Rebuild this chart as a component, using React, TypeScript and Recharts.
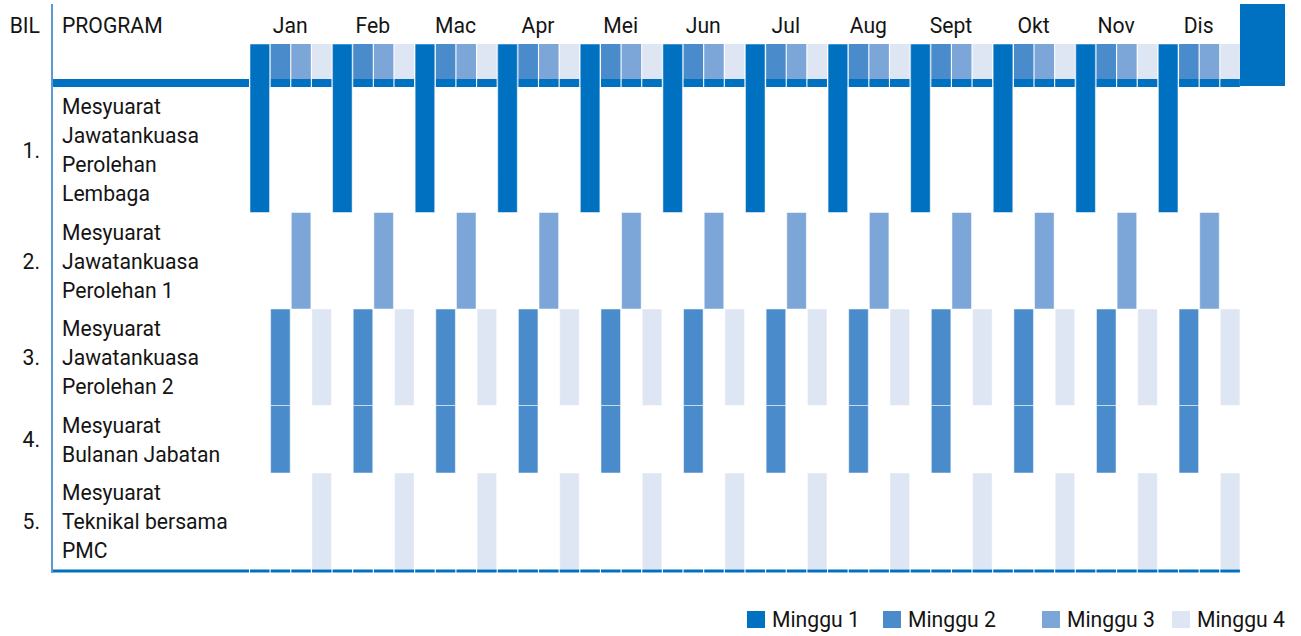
import React from "react";
import { BarChart, Bar, Cell, XAxis, YAxis, ReferenceArea, Legend } from "recharts";

const MONTHS = ["Jan", "Feb", "Mac", "Apr", "Mei", "Jun", "Jul", "Aug", "Sept", "Okt", "Nov", "Dis"];
const WEEKS = ["Minggu 1", "Minggu 2", "Minggu 3", "Minggu 4"];
const WEEK_COLORS = ["#0070c0", "#4a8bcb", "#7ca6d8", "#dee6f3"];

const PROGRAMS = [
  ["Mesyuarat", "Jawatankuasa", "Perolehan", "Lembaga"],
  ["Mesyuarat", "Jawatankuasa", "Perolehan 1"],
  ["Mesyuarat", "Jawatankuasa", "Perolehan 2"],
  ["Mesyuarat", "Bulanan Jabatan"],
  ["Mesyuarat", "Teknikal bersama", "PMC"],
];
// week of the month (1-4) each programme meets in, every month
const MEETING_WEEKS = [[1], [3], [2, 4], [2], [4]];

// layout
const W = 1301;
const H = 636;
const DARK = "#0070c0";
const INK = "#141414";
const PLOT_LEFT = 52;
const PLOT_RIGHT = 1285;
const PLOT_TOP = 4;
const PLOT_BOTTOM = 573;
const PLOT_W = PLOT_RIGHT - PLOT_LEFT;
const PROGRAM_W = 197;
const BLOCK_W = 45;
const BAND = (PLOT_W - PROGRAM_W - BLOCK_W) / 48;
const BAR_W = BAND - 1.1;
const Y_MAX = PLOT_BOTTOM - PLOT_TOP;
const CELL_TOP = 40;
const BAND_TOP = 75;
const HEADER_BOTTOM = 83;
const LINE_H = 29;
const ROW_PAD = 9.5;
const FONT = 22.5;
const SQUEEZE = 0.94;
const LEGEND_LEFT = [747, 883, 1042, 1172];

const rowTops: number[] = [];
const rowBottoms: number[] = [];
PROGRAMS.reduce((top, lines) => {
  rowTops.push(top);
  rowBottoms.push(top + lines.length * LINE_H + ROW_PAD);
  return top + lines.length * LINE_H + ROW_PAD;
}, HEADER_BOTTOM);
const TABLE_BOTTOM = rowBottoms[rowBottoms.length - 1];

const Y_TICKS = [21, ...rowTops.map((t, i) => (t + rowBottoms[i]) / 2)];

const data = MONTHS.flatMap((month) =>
  WEEKS.map((_, w) => {
    const row: Record<string, any> = {
      id: `${month}-${w + 1}`,
      month,
      week: w,
      header: [CELL_TOP, BAND_TOP],
      band: [BAND_TOP, HEADER_BOTTOM],
      bottom: [TABLE_BOTTOM, TABLE_BOTTOM + 3],
    };
    MEETING_WEEKS.forEach((weeks, p) => {
      row[`p${p}`] = weeks.includes(w + 1)
        ? [p === 0 ? CELL_TOP : rowTops[p], rowBottoms[p]]
        : null;
    });
    return row;
  })
);

function Label({ x, y, anchor = "start", children }: any) {
  return (
    <text
      transform={`translate(${x},${y}) scale(${SQUEEZE},1)`}
      textAnchor={anchor}
      dy="0.35em"
      fontSize={FONT}
      fontFamily="Roboto, sans-serif"
      fill={INK}
    >
      {children}
    </text>
  );
}

function RowTick(props: any) {
  const { x, y, payload } = props;
  const i = Y_TICKS.findIndex((v) => Math.abs(v - payload.value) < 0.01);
  if (i < 0) return <g />;
  if (i === 0) {
    return (
      <g>
        <Label x={x} y={y} anchor="end">BIL</Label>
        <Label x={x + 22} y={y}>PROGRAM</Label>
      </g>
    );
  }
  const lines = PROGRAMS[i - 1];
  return (
    <g>
      <Label x={x} y={y} anchor="end">{`${i}.`}</Label>
      {lines.map((t, j) => (
        <Label key={j} x={x + 22} y={y + (j - (lines.length - 1) / 2) * LINE_H}>
          {t}
        </Label>
      ))}
    </g>
  );
}

function MonthTick(props: any) {
  const { x, payload } = props;
  const d = data[payload.index];
  if (!d || d.week !== 1) return <g />;
  return (
    <Label x={x + BAND / 2} y={PLOT_TOP + Y_TICKS[0]} anchor="middle">
      {d.month}
    </Label>
  );
}

function WeekLegend() {
  return (
    <div style={{ position: "relative", width: W, height: 30, fontFamily: "Roboto, sans-serif" }}>
      {WEEKS.map((w, i) => (
        <div
          key={w}
          style={{ position: "absolute", left: LEGEND_LEFT[i], top: 0, height: 30, display: "flex", alignItems: "center" }}
        >
          <span style={{ width: 18, height: 17, background: WEEK_COLORS[i], display: "inline-block" }} />
          <span
            style={{
              marginLeft: 7,
              fontSize: FONT,
              color: INK,
              display: "inline-block",
              transform: `scaleX(${SQUEEZE})`,
              transformOrigin: "left center",
              whiteSpace: "nowrap",
            }}
          >
            {w}
          </span>
        </div>
      ))}
    </div>
  );
}

const plainBar = { isAnimationActive: false, barSize: BAR_W };
const barStyle = { ...plainBar, stroke: "#ffffff", strokeOpacity: 0.5, strokeWidth: 1 };

const areaStyle = { xAxisId: "frame", fill: DARK, fillOpacity: 1, ifOverflow: "visible" as const };

export default function App() {
  return (
    <div style={{ position: "absolute", left: 0, top: 0, width: W, height: H, background: "#fff" }}>
      <BarChart
        width={W}
        height={H}
        data={data}
        barGap={-BAR_W}
        barCategoryGap={0}
        margin={{ top: PLOT_TOP, right: W - PLOT_RIGHT, bottom: H - PLOT_BOTTOM - 30, left: 8 }}
      >
        <XAxis
          dataKey="id"
          orientation="top"
          mirror
          interval={0}
          axisLine={false}
          tickLine={false}
          padding={{ left: PROGRAM_W, right: BLOCK_W }}
          tick={(p: any) => <MonthTick {...p} />}
        />
        <XAxis xAxisId="frame" type="number" dataKey="week" domain={[0, PLOT_W]} allowDataOverflow hide />
        <YAxis
          type="number"
          domain={[0, Y_MAX]}
          reversed
          allowDataOverflow
          ticks={Y_TICKS}
          interval={0}
          width={PLOT_LEFT - 8}
          tickSize={0}
          tickMargin={12}
          tickLine={false}
          axisLine={{ stroke: "#5b9bd5", strokeWidth: 2 }}
          tick={(p: any) => <RowTick {...p} />}
        />
        <ReferenceArea {...areaStyle} x1={0} x2={PROGRAM_W} y1={BAND_TOP} y2={HEADER_BOTTOM} />
        <ReferenceArea {...areaStyle} x1={0} x2={PROGRAM_W} y1={TABLE_BOTTOM} y2={TABLE_BOTTOM + 3} />
        <ReferenceArea {...areaStyle} x1={PLOT_W - BLOCK_W} x2={PLOT_W} y1={0} y2={HEADER_BOTTOM - 1} />
        <Bar dataKey="header" {...plainBar}>
          {data.map((d, i) => (
            <Cell key={i} fill={WEEK_COLORS[d.week]} />
          ))}
        </Bar>
        <Bar dataKey="band" fill={DARK} {...plainBar} />
        {PROGRAMS.map((_, p) => (
          <Bar key={p} dataKey={`p${p}`} {...barStyle}>
            {data.map((d, i) => (
              <Cell key={i} fill={WEEK_COLORS[d.week]} />
            ))}
          </Bar>
        ))}
        <Bar dataKey="bottom" fill={DARK} {...plainBar} />
        <Legend
          verticalAlign="bottom"
          wrapperStyle={{ left: 0, top: 604, width: W, height: 30 }}
          content={() => <WeekLegend />}
        />
      </BarChart>
    </div>
  );
}
